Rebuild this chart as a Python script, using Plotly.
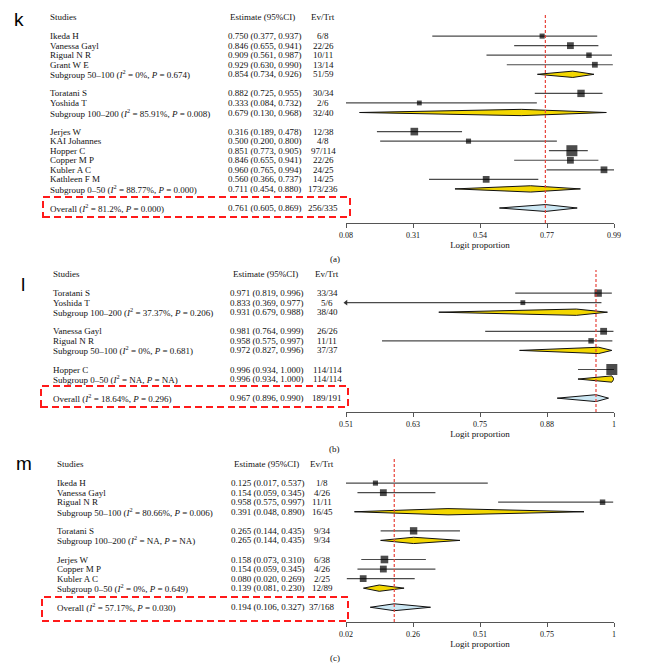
import numpy as np
import plotly.graph_objects as go

# ---- data ----
# panel k
k_study = ["Ikeda H", "Vanessa Gayl", "Rigual N R", "Grant W E",
           "Subgroup 50–100 (<i>I</i><sup>2</sup> = 0%, <i>P</i> = 0.674)",
           "Toratani S", "Yoshida T",
           "Subgroup 100–200 (<i>I</i><sup>2</sup> = 85.91%, <i>P</i> = 0.008)",
           "Jerjes W", "KAI Johannes", "Hopper C", "Copper M P", "Kubler A C", "Kathleen F M",
           "Subgroup 0–50 (<i>I</i><sup>2</sup> = 88.77%, <i>P</i> = 0.000)",
           "Overall (<i>I</i><sup>2</sup> = 81.2%, <i>P</i> = 0.000)"]
k_est = [0.750, 0.846, 0.909, 0.929, 0.854, 0.882, 0.333, 0.679,
         0.316, 0.500, 0.851, 0.846, 0.960, 0.560, 0.711, 0.761]
k_lo = [0.377, 0.655, 0.561, 0.630, 0.734, 0.725, 0.084, 0.130,
        0.189, 0.200, 0.773, 0.655, 0.765, 0.366, 0.454, 0.605]
k_hi = [0.937, 0.941, 0.987, 0.990, 0.926, 0.955, 0.732, 0.968,
        0.478, 0.800, 0.905, 0.941, 0.994, 0.737, 0.880, 0.869]
k_ev = [6, 22, 10, 13, 51, 30, 2, 32, 12, 4, 97, 22, 24, 14, 173, 256]
k_trt = [8, 26, 11, 14, 59, 34, 6, 40, 38, 8, 114, 26, 25, 25, 236, 335]

# panel l
l_study = ["Toratani S", "Yoshida T",
           "Subgroup 100–200 (<i>I</i><sup>2</sup> = 37.37%, <i>P</i> = 0.206)",
           "Vanessa Gayl", "Rigual N R",
           "Subgroup 50–100 (<i>I</i><sup>2</sup> = 0%, <i>P</i> = 0.681)",
           "Hopper C",
           "Subgroup 0–50 (<i>I</i><sup>2</sup> = NA, <i>P</i> = NA)",
           "Overall (<i>I</i><sup>2</sup> = 18.64%, <i>P</i> = 0.296)"]
l_est = [0.971, 0.833, 0.931, 0.981, 0.958, 0.972, 0.996, 0.996, 0.967]
l_lo = [0.819, 0.369, 0.679, 0.764, 0.575, 0.827, 0.934, 0.934, 0.896]
l_hi = [0.996, 0.977, 0.988, 0.999, 0.997, 0.996, 1.000, 1.000, 0.990]
l_ev = [33, 5, 38, 26, 11, 37, 114, 114, 189]
l_trt = [34, 6, 40, 26, 11, 37, 114, 114, 191]

# panel m
m_study = ["Ikeda H", "Vanessa Gayl", "Rigual N R",
           "Subgroup 50–100 (<i>I</i><sup>2</sup> = 80.66%, <i>P</i> = 0.006)",
           "Toratani S",
           "Subgroup 100–200 (<i>I</i><sup>2</sup> = NA, <i>P</i> = NA)",
           "Jerjes W", "Copper M P", "Kubler A C",
           "Subgroup 0–50 (<i>I</i><sup>2</sup> = 0%, <i>P</i> = 0.649)",
           "Overall (<i>I</i><sup>2</sup> = 57.17%, <i>P</i> = 0.030)"]
m_est = [0.125, 0.154, 0.958, 0.391, 0.265, 0.265, 0.158, 0.154, 0.080, 0.139, 0.194]
m_lo = [0.017, 0.059, 0.575, 0.048, 0.144, 0.144, 0.073, 0.059, 0.020, 0.081, 0.106]
m_hi = [0.537, 0.345, 0.997, 0.890, 0.435, 0.435, 0.310, 0.345, 0.269, 0.230, 0.327]
m_ev = [1, 4, 11, 16, 9, 9, 6, 4, 2, 12, 37]
m_trt = [8, 26, 11, 45, 34, 34, 38, 26, 25, 89, 168]

# ---- layout helpers ----
# the page body keeps its 8px margin, so the figure is a bit smaller than the
# window and positions below are given in window pixels
OFF = 8
W, H = 646 - OFF, 666 - OFF
PITCH = 9.55
SERIF = "Liberation Serif"
TXT = "#111111"
X0, X1 = 346, 614


def px(x):
    return (x - OFF) / W


def py(y):
    return 1 - (y - OFF) / H


panels = [
    dict(letter="k", study=k_study, est=k_est, lo=k_lo, hi=k_hi, ev=k_ev, trt=k_trt,
         xr=[0.084, 0.994], top=14, axis=223, head=17, cols=(48, 226, 323),
         box=(43, 197, 350, 217), cap="(a)", cap_y=259, lxy=(19, 19)),
    dict(letter="l", study=l_study, est=l_est, lo=l_lo, hi=l_hi, ev=l_ev, trt=l_trt,
         xr=[0.509, 1.0], top=270, axis=412, head=274, cols=(51, 228, 327),
         box=(41, 386, 348, 407), cap="(b)", cap_y=449, lxy=(23, 284)),
    dict(letter="m", study=m_study, est=m_est, lo=m_lo, hi=m_hi, ev=m_ev, trt=m_trt,
         xr=[0.017, 1.0], top=459, axis=622, head=464, cols=(55, 229, 322),
         box=(42, 597, 348, 621), cap="(c)", cap_y=658, lxy=(24, 463)),
]

fig = go.Figure()
annotations = []
shapes = []
layout = {}


def note(x, y, yref, text, anchor="left", font=None):
    return dict(x=x, y=y, xref="paper", yref=yref, text=text, showarrow=False,
                xanchor=anchor, yanchor="middle", font=font)


for i, p in enumerate(panels, start=1):
    xa = "x" if i == 1 else f"x{i}"
    ya = "y" if i == 1 else f"y{i}"
    est = np.array(p["est"])
    lo = np.array(p["lo"])
    hi = np.array(p["hi"])
    trt = np.array(p["trt"])

    # row index of each line: blank row after every subgroup
    rows, kinds, r = [], [], 2
    for s in p["study"]:
        kind = "o" if s.startswith("Overall") else ("g" if s.startswith("Subgroup") else "s")
        rows.append(r)
        kinds.append(kind)
        r += 2 if kind == "g" else 1
    rows = np.array(rows, dtype=float)
    kinds = np.array(kinds)
    st = kinds == "s"

    # CI lines
    fig.add_trace(go.Scatter(
        x=est[st], y=rows[st], mode="markers", xaxis=xa, yaxis=ya,
        marker=dict(size=0.1, color="rgba(0,0,0,0)"),
        error_x=dict(type="data", symmetric=False, array=(hi - est)[st],
                     arrayminus=(est - lo)[st], width=0, thickness=1.2, color="#4a4a4a"),
        showlegend=False, hoverinfo="skip"))
    # study squares
    fig.add_trace(go.Scatter(
        x=est[st], y=rows[st], mode="markers", xaxis=xa, yaxis=ya, cliponaxis=False,
        marker=dict(symbol="square", size=3 + 0.75 * np.sqrt(trt[st]), color="#000",
                    line=dict(width=0)),
        showlegend=False))
    # arrows for CIs running past the axis
    cut = st & (lo < p["xr"][0] - 0.005)
    if cut.any():
        fig.add_trace(go.Scatter(
            x=np.full(cut.sum(), p["xr"][0]), y=rows[cut], mode="markers",
            xaxis=xa, yaxis=ya, cliponaxis=False,
            marker=dict(symbol="triangle-left", size=5, color="#333"),
            showlegend=False))
    # diamonds
    for j in np.where(~st)[0]:
        h = 0.33 if kinds[j] == "g" else 0.36
        fig.add_trace(go.Scatter(
            x=[lo[j], est[j], hi[j], est[j], lo[j]],
            y=[rows[j], rows[j] - h, rows[j], rows[j] + h, rows[j]],
            mode="lines", fill="toself", xaxis=xa, yaxis=ya, cliponaxis=False,
            fillcolor="#f3d700" if kinds[j] == "g" else "#cde8f4",
            line=dict(color="#111", width=1), showlegend=False))

    # axes
    ticks = np.linspace(p["xr"][0], p["xr"][1], 5)
    layout["xaxis" if i == 1 else f"xaxis{i}"] = dict(
        domain=[px(X0), px(X1)], range=p["xr"], anchor=ya, automargin=False,
        tickvals=ticks, ticktext=[f"{t:.2f}".rstrip("0").rstrip(".") for t in ticks],
        ticks="outside", ticklen=4, tickwidth=1, tickcolor="#555",
        showline=True, linecolor="#555", linewidth=1.2,
        showgrid=False, zeroline=False,
        tickfont=dict(family=SERIF, size=8, color=TXT),
        title=dict(text="Logit proportion", standoff=2,
                   font=dict(family=SERIF, size=9, color=TXT)))
    row_at = lambda y: (y - p["head"]) / PITCH
    layout["yaxis" if i == 1 else f"yaxis{i}"] = dict(
        domain=[py(p["axis"]), py(p["top"])], range=[row_at(p["axis"]), row_at(p["top"])],
        anchor=xa, visible=False, fixedrange=True, automargin=False)

    # overall reference line
    shapes.append(dict(type="line", xref=xa, yref=f"{ya} domain",
                       x0=est[-1], x1=est[-1], y0=0, y1=1,
                       line=dict(color="#e8453c", width=1.2, dash="3px,2px")))
    # dashed box around the overall row
    bx0, by0, bx1, by1 = p["box"]
    shapes.append(dict(type="rect", xref="paper", yref="paper",
                       x0=px(bx0), x1=px(bx1), y0=py(by1), y1=py(by0),
                       line=dict(color="#ff1a1a", width=2, dash="7px,4px")))

    # text columns
    c_st, c_es, c_ev = p["cols"]
    f = dict(family=SERIF, size=9, color=TXT)
    annotations += [
        note(px(c_st), 0, ya, "Studies", "left", f),
        note(px(c_es + 37), 0, ya, "Estimate (95%CI)", "center", f),
        note(px(c_ev), 0, ya, "Ev/Trt", "center", f),
    ]
    for j, s in enumerate(p["study"]):
        annotations += [
            note(px(c_st), rows[j], ya, s, "left", f),
            note(px(c_es), rows[j], ya, f"{est[j]:.3f} ({lo[j]:.3f}, {hi[j]:.3f})", "left", f),
            note(px(c_ev), rows[j], ya, f"{p['ev'][j]}/{p['trt'][j]}", "center", f),
        ]
    # caption and panel letter
    annotations.append(note(px(335), py(p["cap_y"]), "paper", p["cap"], "center", f))
    lx, ly = p["lxy"]
    annotations.append(note(px(lx), py(ly), "paper", p["letter"], "center",
                            dict(family="Liberation Sans", size=19, color="#000")))

fig.update_layout(
    width=W, height=H, margin=dict(l=0, r=0, t=0, b=0, pad=0),
    paper_bgcolor="white", plot_bgcolor="white",
    annotations=annotations, shapes=shapes, **layout)

fig.write_html("out.html")
